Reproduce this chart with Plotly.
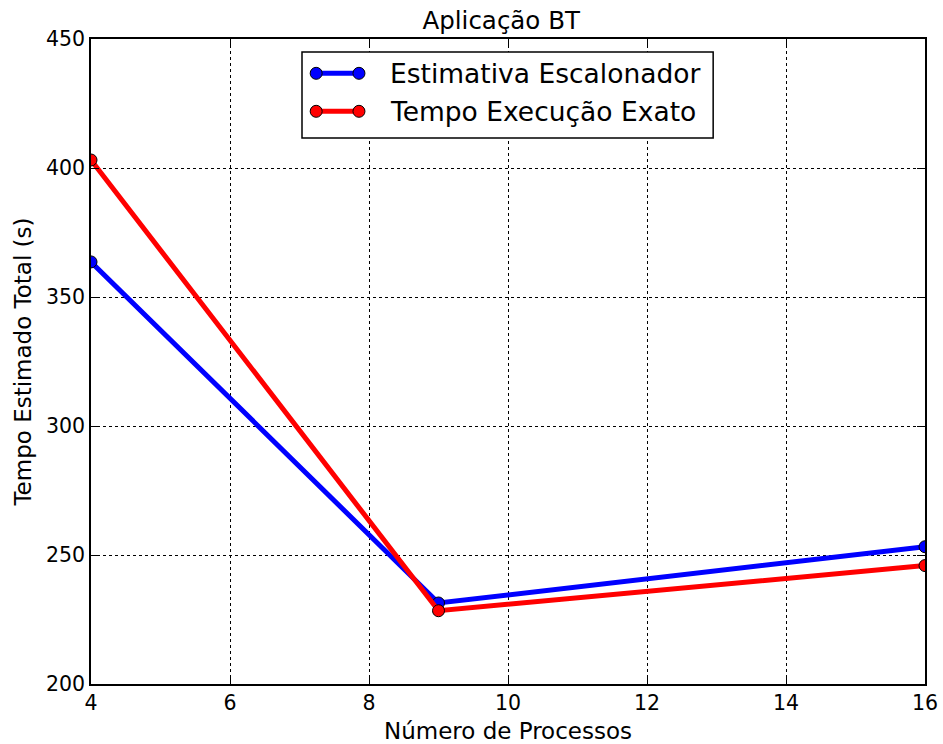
import plotly.graph_objects as go

# Number of processes and total time (s) per series
processos = [4, 9, 16]
estimativa_escalonador = [363.6, 231.4, 253.2]
tempo_execucao_exato = [403.1, 228.4, 245.9]

serie_nomes = ["Estimativa Escalonador", "Tempo Execução Exato"]
serie_cores = ["#0000ff", "#ff0000"]

x_ticks = [4, 6, 8, 10, 12, 14, 16]
y_ticks = [200, 250, 300, 350, 400, 450]

FONT = "DejaVu Sans"

fig = go.Figure()
for nome, valores, cor in zip(serie_nomes, [estimativa_escalonador, tempo_execucao_exato], serie_cores):
    fig.add_trace(go.Scatter(
        x=processos, y=valores, name=nome, mode="lines+markers",
        line=dict(color=cor, width=5),
        marker=dict(color=cor, size=12, line=dict(color="black", width=1)),
        showlegend=False,
    ))

# Legend box drawn in paper coordinates (two markers per sample line)
lx0, lx1, ly0, ly1 = 0.253, 0.746, 0.8465, 0.980
fig.add_shape(type="rect", xref="paper", yref="paper", x0=lx0, x1=lx1, y0=ly0, y1=ly1,
              line=dict(color="black", width=1.5), fillcolor="white", layer="above")
row_y = [0.9468, 0.8879]
sx0, sx1 = 0.270, 0.3213
for nome, cor, yy in zip(serie_nomes, serie_cores, row_y):
    fig.add_shape(type="line", xref="paper", yref="paper", x0=sx0, x1=sx1, y0=yy, y1=yy,
                  line=dict(color=cor, width=5), layer="above")
    for xx in (sx0, sx1):
        fig.add_shape(type="circle", xref="paper", yref="paper",
                      x0=xx - 6 / 834, x1=xx + 6 / 834, y0=yy - 6 / 645, y1=yy + 6 / 645,
                      fillcolor=cor, line=dict(color="black", width=1), layer="above")
    fig.add_annotation(xref="paper", yref="paper", x=0.356, y=yy, text=nome,
                       showarrow=False, xanchor="left", yanchor="middle",
                       font=dict(family=FONT, size=26.5, color="black"))

axis_common = dict(
    showline=True, linecolor="black", linewidth=1.5, mirror="allticks",
    ticks="inside", ticklen=8, tickwidth=1, tickcolor="black",
    showgrid=True, gridcolor="black", gridwidth=1, griddash="dot",
    zeroline=False, automargin=False,
    tickfont=dict(family=FONT, size=20.5, color="black"),
)

fig.update_xaxes(range=[4, 16], tickvals=x_ticks, ticktext=[str(v) for v in x_ticks],
                 title=dict(text="Número de Processos", font=dict(family=FONT, size=23, color="black"), standoff=9),
                 **axis_common)
fig.update_yaxes(range=[200, 450], tickvals=y_ticks, ticktext=[str(v) for v in y_ticks],
                 title=dict(text="Tempo Estimado Total (s)", font=dict(family=FONT, size=23, color="black"), standoff=8),
                 **axis_common)

fig.update_layout(
    width=943, height=744,
    margin=dict(l=91, r=18, t=39, b=60),
    paper_bgcolor="white", plot_bgcolor="white",
    title=dict(text="Aplicação BT", x=0.5315, xanchor="center", y=1 - 20 / 744, yanchor="middle",
               font=dict(family=FONT, size=24.5, color="black")),
    font=dict(family=FONT, color="black"),
    showlegend=False,
)

fig.write_html("out.html")
